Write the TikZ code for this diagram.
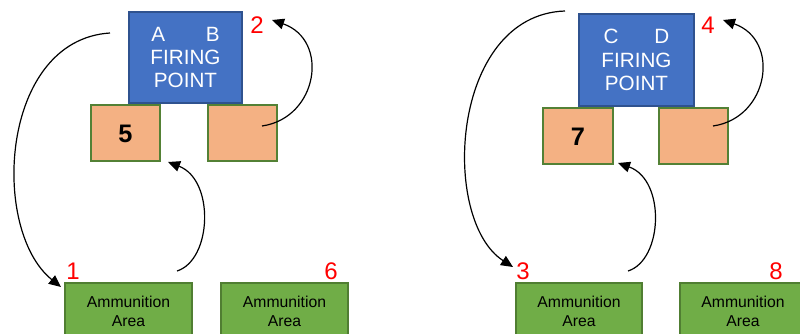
\documentclass[tikz,border=0pt]{standalone}
\usepackage{fontspec}
\setmainfont{Liberation Sans}
\usetikzlibrary{arrows.meta}
\definecolor{fpblue}{HTML}{4472C4}
\definecolor{fpborder}{HTML}{2F528F}
\definecolor{orfill}{HTML}{F4B183}
\definecolor{orborder}{HTML}{538135}
\definecolor{amfill}{HTML}{70AD47}
\definecolor{amborder}{HTML}{507E32}
\definecolor{numred}{HTML}{FF0000}
\tikzset{
  boxbase/.style={draw, line width=1.5pt, inner sep=0pt, align=center},
  firing/.style={boxbase, fill=fpblue, draw=fpborder, text=white,
    font=\fontsize{15.5}{17.6}\selectfont},
  slot/.style={boxbase, fill=orfill, draw=orborder, minimum width=52pt, minimum height=42pt,
    font=\fontsize{19}{20}\selectfont\bfseries},
  ammo/.style={boxbase, fill=amfill, draw=amborder, minimum width=95pt, minimum height=42.75pt,
    font=\fontsize{11.8}{14.5}\selectfont},
  num/.style={text=numred, inner sep=0pt, font=\fontsize{18}{20}\selectfont},
  conn/.style={line width=0.9pt, -{Triangle[length=9pt,width=8pt]}},
}
\begin{document}
\begin{tikzpicture}[x=0.75pt,y=-0.75pt]
\useasboundingbox (0,0) rectangle (800,334);
\clip (0,0) rectangle (800,334);
% left group
\node[firing, minimum width=84.75pt, minimum height=68.25pt] (fpL) at (185.5,57.5) {A\hspace{30.5pt}B\\FIRING\\POINT};
\node[slot] (s5) at (125.5,133.5) {5};
\node[slot] (sL) at (242.5,133.5) {};
\node[ammo] (a1) at (128.5,311.5) {Ammunition\\Area};
\node[ammo] (a6) at (284.5,311.5) {Ammunition\\Area};
\node[num] (n1) at (73,271) {1};
\node[num] (n2) at (257,25) {2};
\node[num] (n6) at (331,271) {6};
% right group
\node[firing, minimum width=86.25pt, minimum height=69pt] (fpR) at (636.5,60) {C\hspace{27pt}D\\FIRING\\POINT};
\node[slot] (s7) at (578,136.5) {7};
\node[slot] (sR) at (693.5,136.5) {};
\node[ammo] (a3) at (579,311.5) {Ammunition\\Area};
\node[ammo] (a8) at (743,311.5) {Ammunition\\Area};
\node[num] (n3) at (523,271) {3};
\node[num] (n4) at (708,25) {4};
\node[num] (n8) at (776,271) {8};
% connector ends
\coordinate (c1s) at (110,33);
\coordinate (c1e) at (61,287);
\coordinate (c2s) at (177,271);
\coordinate (c2e) at (168,162);
\coordinate (c3s) at (262,126);
\coordinate (c3e) at (272,20);
\coordinate (d1s) at (565,11);
\coordinate (d1e) at (513,267);
\coordinate (d2s) at (628,271);
\coordinate (d2e) at (618,163);
\coordinate (d3s) at (713,126);
\coordinate (d3e) at (723,20);
% connectors
\draw[conn] (c1s) .. controls (0,40) and (-10,230) .. (c1e);
\draw[conn] (c2s) .. controls (212,260) and (215,180) .. (c2e);
\draw[conn] (c3s) .. controls (318,118) and (330,40) .. (c3e);
\draw[conn] (d1s) .. controls (450,15) and (440,220) .. (d1e);
\draw[conn] (d2s) .. controls (663,260) and (666,180) .. (d2e);
\draw[conn] (d3s) .. controls (769,118) and (781,40) .. (d3e);
\end{tikzpicture}
\end{document}
